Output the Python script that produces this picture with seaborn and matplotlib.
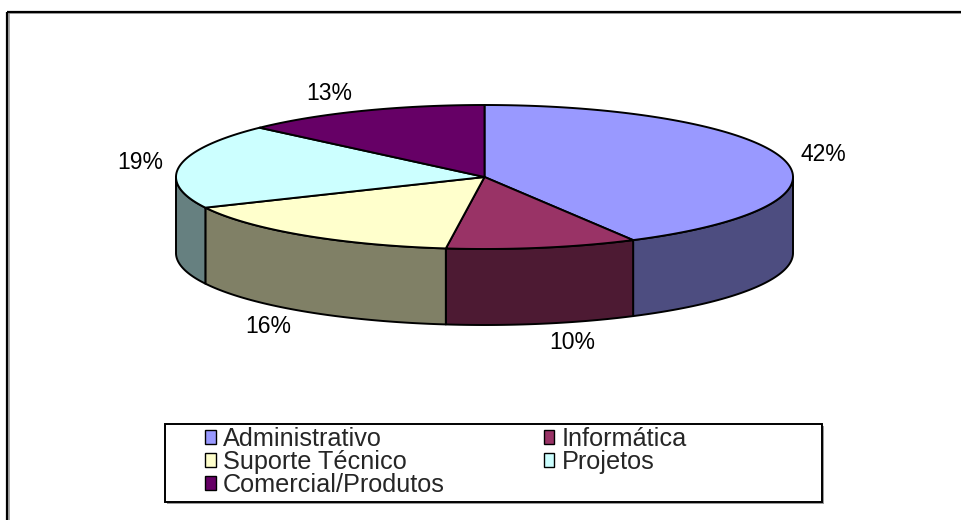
import numpy as np
import matplotlib
matplotlib.use("Agg")
import matplotlib.pyplot as plt
from matplotlib.patches import Patch, Rectangle
import seaborn as sns

# ---- data ----
categories = ["Administrativo", "Informática", "Suporte Técnico", "Projetos", "Comercial/Produtos"]
values = [42, 10, 16, 19, 13]
top_colors = ["#9999FF", "#993366", "#FFFFCC", "#CCFFFF", "#660066"]

# ---- style ----
sns.set_theme(style="white")
plt.rcParams["font.family"] = ["Liberation Sans", "DejaVu Sans"]

W, H = 961, 520
fig = plt.figure(figsize=(W / 100, H / 100), dpi=100)
ax = fig.add_axes([0, 0, 1, 1])
ax.set_xlim(0, W)
ax.set_ylim(H, 0)
ax.axis("off")

# outer chart frame (black with grey shadow)
ax.add_patch(Rectangle((8.5, 13), W, H, fill=False, edgecolor="#9a9a9a", lw=1.2, zorder=1))
ax.add_patch(Rectangle((7, 11.5), W, H, fill=False, edgecolor="black", lw=1.6, zorder=2))

# ---- 3D pie geometry (layout) ----
cx, cy = 484.5, 177.0
a, b = 308.5, 72.0
depth = 76.0
edge_kw = dict(edgecolor="black", linewidth=1.4, joinstyle="round")

vals = np.asarray(values, dtype=float)
fracs = vals / vals.sum()
cum = np.concatenate([[0], np.cumsum(fracs)])
theta_start = 90 - 360 * cum[:-1]
theta_end = 90 - 360 * cum[1:]


def rim(th_deg):
    t = np.radians(th_deg)
    return cx + a * np.cos(t), cy - b * np.sin(t)


def darker(c, f=0.5):
    r, g, bb = matplotlib.colors.to_rgb(c)
    return (r * f, g * f, bb * f)


# sides (front half only: angles in [-180, 0])
for i in range(len(values)):
    lo = max(theta_end[i], -180)
    hi = min(theta_start[i], 0)
    if hi > lo:
        th = np.linspace(lo, hi, 120)
        x, y = rim(th)
        px = np.concatenate([x, x[::-1]])
        py = np.concatenate([y, (y + depth)[::-1]])
        ax.fill(px, py, facecolor=darker(top_colors[i]), zorder=3, **edge_kw)

# top faces
for i in range(len(values)):
    th = np.linspace(theta_start[i], theta_end[i], 200)
    x, y = rim(th)
    px = np.concatenate([[cx], x, [cx]])
    py = np.concatenate([[cy], y, [cy]])
    ax.fill(px, py, facecolor=top_colors[i], zorder=4, **edge_kw)

# percentage labels
label_fs = 16.5
for i in range(len(values)):
    mid = (theta_start[i] + theta_end[i]) / 2
    t = np.radians(mid)
    rx, ry = rim(mid)
    if np.sin(t) < 0:
        ry += depth
    lx = rx + np.sign(np.cos(t)) * 28 + 12 * np.cos(t)
    ly = ry - 19 * np.sin(t)
    ax.text(lx, ly, f"{fracs[i] * 100:.0f}%", ha="center", va="center",
            fontsize=label_fs, color="black", zorder=6)

# ---- legend ----
lx0, ly0, lx1, ly1 = 165, 424, 822, 502
ax.add_patch(Rectangle((lx0 + 2, ly0 + 2), lx1 - lx0, ly1 - ly0, facecolor="#9a9a9a",
                       edgecolor="none", zorder=7))
ax.add_patch(Rectangle((lx0, ly0), lx1 - lx0, ly1 - ly0, facecolor="white",
                       edgecolor="black", lw=1.4, zorder=8))

order = [0, 2, 4, 1, 3]  # row-major reading in 2 columns
handles = [Patch(facecolor=top_colors[k], edgecolor="black", linewidth=1.0) for k in order]
labels = [categories[k] for k in order]
leg = ax.legend(handles, labels, ncol=2, loc="upper left",
                bbox_to_anchor=(205, 427), bbox_transform=ax.transData,
                frameon=False, fontsize=18.2, handlelength=0.42, handleheight=0.42,
                handletextpad=0.3, columnspacing=3.9, labelspacing=-0.04,
                borderpad=0.0, borderaxespad=0.0)
leg.set_zorder(9)

fig.savefig("out.png", dpi=100, facecolor="white")
